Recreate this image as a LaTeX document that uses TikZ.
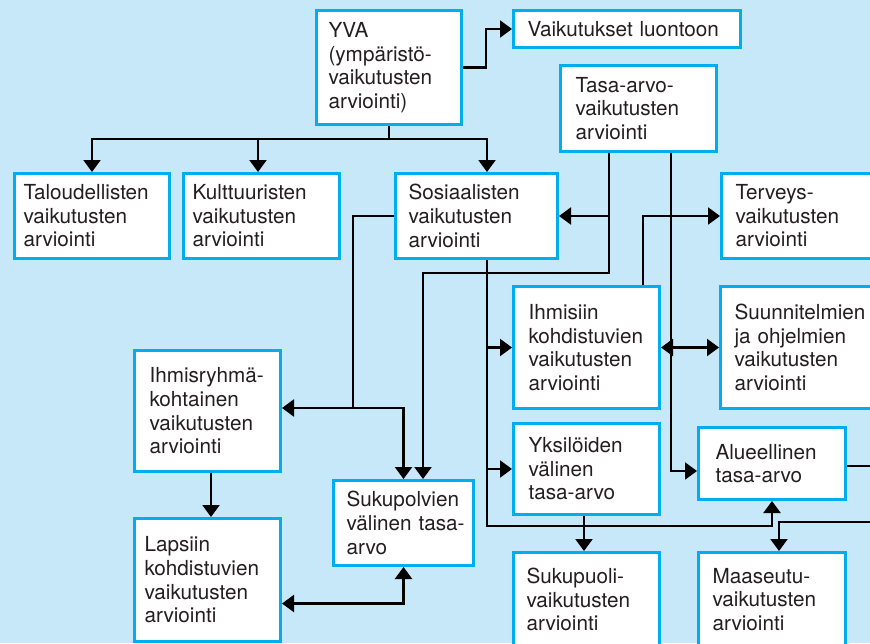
\documentclass[tikz,border=0pt]{standalone}
\usepackage{fontspec}
\setmainfont{TeX Gyre Heros}
\usetikzlibrary{arrows.meta,calc}
\definecolor{bg}{RGB}{198,232,248}
\definecolor{cy}{RGB}{0,174,239}
\definecolor{txt}{RGB}{35,31,32}
\begin{document}
\begin{tikzpicture}[x=1pt,y=-1pt,
  bx/.style={draw=cy, fill=white, line width=3pt, anchor=north west, align=left,
    inner ysep=0pt, text=txt,
    font=\fontsize{20.7}{23.6}\selectfont,
    execute at begin node={\hyphenpenalty=10000\relax\exhyphenpenalty=10000\relax}},
  ln/.style={draw=black, line width=2.2pt},
  arr/.style={ln, -{Triangle[length=12pt,width=17pt]}},
  arrb/.style={ln, {Triangle[length=12pt,width=17pt]}-{Triangle[length=12pt,width=17pt]}}]
\useasboundingbox (0,0) rectangle (870,643);
\fill[bg] (0,0) rectangle (870,643);
\clip (0,0) rectangle (870,643);

% boxes
\node[bx, text width=121pt, inner xsep=12pt, minimum height=114pt] (yva) at (315,9) {YVA\\(ympäristö-\\vaikutusten\\arviointi)};
\node[bx, text width=199pt, inner xsep=14pt, minimum height=37pt] (vai) at (512,9) {Vaikutukset~luontoon};
\node[bx, text width=126pt, inner xsep=15pt, minimum height=86pt] (tas) at (559,64) {Tasa-arvo-\\vaikutusten\\arviointi};
\node[bx, text width=137pt, inner xsep=9pt, minimum height=85pt] (tal) at (13,172) {Taloudellisten\\vaikutusten\\arviointi};
\node[bx, text width=138pt, inner xsep=9pt, minimum height=85pt] (kul) at (182,172) {Kulttuuristen\\vaikutusten\\arviointi};
\node[bx, text width=136pt, inner xsep=13pt, minimum height=85pt] (sos) at (394,172) {Sosiaalisten\\vaikutusten\\arviointi};
\node[bx, text width=149pt, inner xsep=14pt, minimum height=85pt] (ter) at (720,172) {Terveys-\\vaikutusten\\arviointi};
\node[bx, text width=116pt, inner xsep=15pt, minimum height=122pt] (ihm) at (512,285) {Ihmisiin\\kohdistuvien\\vaikutusten\\arviointi};
\node[bx, text width=149pt, inner xsep=14pt, minimum height=122pt] (suu) at (719,285) {Suunnitelmien\\ja~ohjelmien\\vaikutusten\\arviointi};
\node[bx, text width=116pt, inner xsep=15pt, minimum height=121pt] (ihr) at (133,349) {Ihmisryhmä-\\kohtainen\\vaikutusten\\arviointi};
\node[bx, text width=116pt, inner xsep=15pt, minimum height=91pt] (yks) at (512,422) {Yksilöiden\\välinen\\tasa-arvo};
\node[bx, text width=113pt, inner xsep=17pt, minimum height=72pt] (alu) at (697,426) {Alueellinen\\tasa-arvo};
\node[bx, text width=114pt, inner xsep=13pt, minimum height=85pt] (suk) at (332,479) {Sukupolvien\\välinen~tasa-\\arvo};
\node[bx, text width=126pt, inner xsep=10pt, minimum height=123pt] (lap) at (133,517) {Lapsiin\\kohdistuvien\\vaikutusten\\arviointi};
\node[bx, text width=120pt, inner xsep=13pt, minimum height=94pt] (sup) at (512,551) {Sukupuoli-\\vaikutusten\\arviointi};
\node[bx, text width=119pt, inner xsep=14pt, minimum height=94pt] (maa) at (697,551) {Maaseutu-\\vaikutusten\\arviointi};

% helper coordinates
\coordinate (yj) at ([yshift=-13pt]yva.south);
\coordinate (ta) at ([xshift=-29.5pt]tas.south);
\coordinate (tb) at ([xshift=32.5pt]tas.south);
\coordinate (sb) at ([xshift=10.5pt]sos.south);
\coordinate (sj) at (353,408);
\coordinate (r1) at (875,466);
\coordinate (r2) at (875,522);

% YVA connectors
\draw[ln] (yva.south) -- (yj);
\draw[arr] (yj) -| (tal.north);
\draw[arr] (yj) -| ([xshift=-3.5pt]kul.north);
\draw[arr] (yj) -| ([xshift=10.5pt]sos.north);
\draw[arr] (yva.east) -- ++(23,0) |- (vai.west);

% Tasa-arvo connectors
\draw[arr] (ta) |- (sos.east);
\draw[arr] (ta) -- ++(0,120) -| ([xshift=19.5pt]suk.north);
\draw[arr] (tb) |- ([yshift=-7.5pt]alu.west);
\draw[arrb] (ihm.east) -- (suu.west);
\draw[arr] ([xshift=56.5pt]ihm.north) |- (ter.west);

% Sosiaalisten bottom
\draw[arr] (sb) -- ++(0,266) -| (alu.south);
\draw[arr] (sb |- ihm.west) -- (ihm.west);
\draw[arr] (sb |- yks.west) -- (yks.west);
\draw[arr] ([xshift=-2.5pt]yks.south) -- ([xshift=-2.5pt]sup.north);

% Sosiaalisten left
\draw[ln] (sos.west) -| (sj);
\draw[arr] (sj) -- (sj -| ihr.east);
\draw[arr] (sj) -| (suk.north);
\draw[arr] ([xshift=3.5pt]ihr.south) -- ([xshift=3.5pt]lap.north);
\draw[arrb] ([yshift=-23.5pt]lap.east) -| (suk.south);

% right side
\draw[ln] ([yshift=-2.5pt]alu.east) -- (r1);
\draw[arr] (r2) -| ([xshift=7pt]maa.north);
\end{tikzpicture}
\end{document}
